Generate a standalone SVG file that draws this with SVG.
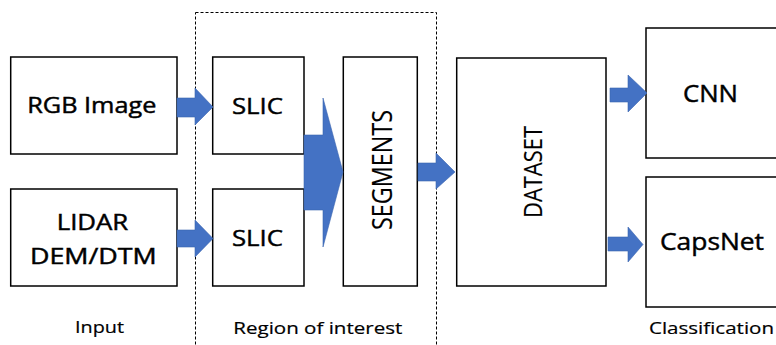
<svg xmlns="http://www.w3.org/2000/svg" width="776" height="345" viewBox="0 0 776 345">
  <style>
    .box { fill: #ffffff; stroke: #000000; stroke-width: 1.5; }
    .arrow { fill: #4472C4; stroke: #3A64B0; stroke-width: 0.6; }
    .lbl { font-family: "Open Sans", "Liberation Sans", sans-serif; fill: #000000; stroke: #000000; stroke-width: 0.45; }
    .vlbl { font-family: "Open Sans", "Liberation Sans", sans-serif; fill: #000000; stroke: #000000; stroke-width: 0.15; }
    .cap { font-family: "Open Sans", "Liberation Sans", sans-serif; font-size: 17px; fill: #000000; stroke: #000000; stroke-width: 0.2; }
    .roi { fill: none; stroke: #000000; stroke-width: 1; stroke-dasharray: 3 2; }
  </style>

  <rect width="776" height="345" fill="#ffffff"/>

  <!-- region of interest frame -->
  <g id="roi-frame">
    <rect class="roi" x="195.5" y="12.5" width="241" height="345"/>
    <text class="cap" x="233.3" y="334" textLength="169" lengthAdjust="spacingAndGlyphs">Region of interest</text>
  </g>

  <g id="rgb">
    <rect class="box" x="10.7" y="57" width="166.3" height="97"/>
    <text class="lbl" font-size="21" x="27.3" y="112.5" textLength="129" lengthAdjust="spacingAndGlyphs">RGB Image</text>
  </g>

  <g id="lidar">
    <rect class="box" x="10.7" y="189" width="166.3" height="97"/>
    <text class="lbl" font-size="21" x="56.7" y="229.5" textLength="71.6" lengthAdjust="spacingAndGlyphs">LIDAR</text>
    <text class="lbl" font-size="21" x="30" y="263.5" textLength="126.7" lengthAdjust="spacingAndGlyphs">DEM/DTM</text>
  </g>

  <g id="slic-top">
    <rect class="box" x="212.7" y="57" width="91.3" height="97"/>
    <text class="lbl" font-size="22" x="232" y="113.5" textLength="51" lengthAdjust="spacingAndGlyphs">SLIC</text>
  </g>

  <g id="slic-bottom">
    <rect class="box" x="212.7" y="189" width="91.3" height="97"/>
    <text class="lbl" font-size="22" x="232" y="245.5" textLength="51" lengthAdjust="spacingAndGlyphs">SLIC</text>
  </g>

  <g id="segments">
    <rect class="box" x="343.3" y="57" width="74" height="229"/>
    <text class="vlbl" font-size="28" text-anchor="middle" transform="translate(391.5,170) rotate(-90)" x="0" y="0" textLength="120" lengthAdjust="spacingAndGlyphs">SEGMENTS</text>
  </g>

  <g id="dataset">
    <rect class="box" x="456.7" y="58" width="149.3" height="228"/>
    <text class="vlbl" font-size="26" text-anchor="middle" transform="translate(541.5,172) rotate(-90)" x="0" y="0" textLength="92" lengthAdjust="spacingAndGlyphs">DATASET</text>
  </g>

  <g id="cnn">
    <rect class="box" x="646" y="28" width="150" height="130"/>
    <text class="lbl" font-size="23" x="683" y="102" textLength="55" lengthAdjust="spacingAndGlyphs">CNN</text>
  </g>

  <g id="capsnet">
    <rect class="box" x="646" y="177" width="150" height="130"/>
    <text class="lbl" font-size="23" x="660" y="249.5" textLength="104" lengthAdjust="spacingAndGlyphs">CapsNet</text>
  </g>

  <g id="captions">
    <text class="cap" x="75" y="333" textLength="49" lengthAdjust="spacingAndGlyphs">Input</text>
    <text class="cap" x="649" y="334" textLength="125" lengthAdjust="spacingAndGlyphs">Classification</text>
  </g>

  <!-- block arrows between stages -->
  <g id="connectors">
    <polygon class="arrow" points="177,98 195,98 195,88 213,107 195,125 195,117 177,117"/>
    <polygon class="arrow" points="177,230 195,230 195,220 213,238.5 195,257 195,247 177,247"/>
    <polygon class="arrow" points="304,135 323,135 323,98 343,172 323,247 323,210 304,210"/>
    <polygon class="arrow" points="418,163 436,163 436,153 455,172 436,189 436,181 418,181"/>
    <polygon class="arrow" points="610,88 628,88 628,75 647,93 628,112 628,102 610,102"/>
    <polygon class="arrow" points="608,237 628,237 628,227 643,244.5 628,262 628,251 608,251"/>
  </g>
</svg>
